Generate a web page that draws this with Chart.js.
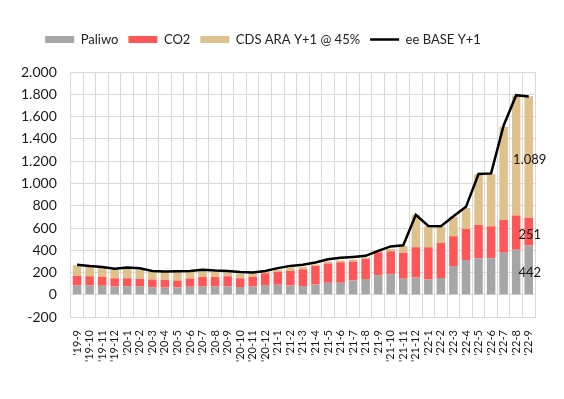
<!DOCTYPE html>
<html>
<head>
<meta charset="utf-8">
<script src="https://cdn.jsdelivr.net/npm/chart.js@4"></script>
<style>
  body { margin: 0; background: #fff; }
  #wrap { width: 564px; height: 399px; }
</style>
</head>
<body>
<div id="wrap"><canvas id="priceChart"></canvas></div>
<script>
// --- data ---
const months = [
  "'19-9", "'19-10", "'19-11", "'19-12",
  "'20-1", "'20-2", "'20-3", "'20-4", "'20-5", "'20-6", "'20-7", "'20-8", "'20-9", "'20-10", "'20-11", "'20-12",
  "'21-1", "'21-2", "'21-3", "'21-4", "'21-5", "'21-6", "'21-7", "'21-8", "'21-9", "'21-10", "'21-11", "'21-12",
  "'22-1", "'22-2", "'22-3", "'22-4", "'22-5", "'22-6", "'22-7", "'22-8", "'22-9",
];

const paliwo = [
  85, 85, 82, 75, 78, 75, 68, 65, 65, 72, 74, 74, 74, 70, 78, 88,
  90, 84, 80, 92, 108, 108, 128, 143, 175, 185, 144, 155,
  138, 152, 258, 312, 328, 328, 378, 404, 442,
];

const co2 = [
  85, 81, 80, 73, 72, 70, 70, 70, 63, 74, 86, 86, 94, 78, 84, 107,
  118, 131, 150, 166, 174, 185, 172, 182, 207, 207, 234, 273,
  290, 313, 267, 278, 300, 288, 294, 308, 251,
];

const cds = [
  95, 84, 78, 80, 86, 83, 70, 69, 76, 59, 52, 45, 32, 44, 33, 13,
  17, 30, 20, 14, 18, 15, 18, 10, 13, 20, 60, 290,
  187, 147, 177, 190, 454, 469, 836, 1076, 1089,
];

const eeBase = [
  270, 258, 250, 235, 245, 238, 215, 210, 212, 215, 225, 218, 215, 205, 200, 215,
  240, 260, 270, 290, 320, 332, 340, 350, 395, 435, 445, 718,
  618, 615, 705, 790, 1085, 1090, 1520, 1792, 1780,
];

const seriesNames = ["Paliwo", "CO2", "CDS ARA Y+1 @ 45%", "ee BASE Y+1"];

// --- helpers ---
const FONT = "Lato, 'Liberation Sans', sans-serif";

function fmt(v) {
  return String(v).replace(/\B(?=(\d{3})+(?!\d))/g, ".");
}

// push the plot area down below the legend, and nudge the legend left
const legendSpacer = {
  id: "legendSpacer",
  beforeInit(chart) {
    const origFit = chart.legend.fit;
    chart.legend.fit = function () {
      origFit.bind(chart.legend)();
      this.height += 16;
    };
  },
  afterLayout(chart) {
    chart.legend.left -= 8;
    chart.legend.right -= 8;
  },
};

// value labels on the last bar
const lastBarLabels = {
  id: "lastBarLabels",
  afterDatasetsDraw(chart) {
    const ctx = chart.ctx;
    ctx.save();
    ctx.font = "13px " + FONT;
    ctx.fillStyle = "#111";
    ctx.textAlign = "center";
    ctx.textBaseline = "middle";
    [0, 1, 2].forEach((di) => {
      const meta = chart.getDatasetMeta(di);
      const idx = meta.data.length - 1;
      const el = meta.data[idx];
      const v = chart.data.datasets[di].data[idx];
      ctx.fillText(fmt(v), el.x + 1, (el.y + el.base) / 2 + 3);
    });
    ctx.restore();
  },
};

const ctx = document.getElementById("priceChart").getContext("2d");

new Chart(ctx, {
  type: "bar",
  data: {
    labels: months,
    datasets: [
      {
        label: seriesNames[0],
        data: paliwo,
        backgroundColor: "#a6a6a6",
        pointStyle: "rect",
        order: 1,
      },
      {
        label: seriesNames[1],
        data: co2,
        backgroundColor: "#ff5757",
        pointStyle: "rect",
        order: 1,
      },
      {
        label: seriesNames[2],
        data: cds,
        backgroundColor: "#dfc18b",
        pointStyle: "rect",
        order: 1,
      },
      {
        type: "line",
        label: seriesNames[3],
        data: eeBase,
        borderColor: "#000000",
        backgroundColor: "#000000",
        borderWidth: 2.5,
        pointRadius: 0,
        pointStyle: "line",
        tension: 0,
        stack: "line",
        order: 0,
      },
    ],
  },
  options: {
    responsive: true,
    maintainAspectRatio: false,
    animation: false,
    categoryPercentage: 0.68,
    barPercentage: 1,
    layout: { padding: { top: 23, left: 7, right: 29, bottom: 24 } },
    plugins: {
      legend: {
        position: "top",
        labels: {
          color: "#222",
          font: { family: FONT, size: 13 },
          usePointStyle: true,
          pointStyleWidth: 29,
          boxHeight: 7,
          padding: 10,
          sort: (a, b) => a.datasetIndex - b.datasetIndex,
        },
      },
      tooltip: { enabled: false },
    },
    scales: {
      x: {
        stacked: true,
        grid: { color: "#d9d9d9", drawTicks: false, offset: true },
        border: { color: "#d9d9d9" },
        ticks: {
          color: "#1a1a1a",
          font: { family: FONT, size: 11 },
          autoSkip: false,
          maxRotation: 90,
          minRotation: 90,
          padding: 13,
        },
      },
      y: {
        stacked: true,
        min: -200,
        max: 2000,
        grid: { color: "#d9d9d9", drawTicks: false },
        border: { color: "#d9d9d9" },
        ticks: {
          stepSize: 200,
          color: "#1a1a1a",
          font: { family: FONT, size: 14 },
          padding: 14,
          callback: (v) => fmt(v),
        },
      },
    },
  },
  plugins: [legendSpacer, lastBarLabels],
});
</script>
</body>
</html>
